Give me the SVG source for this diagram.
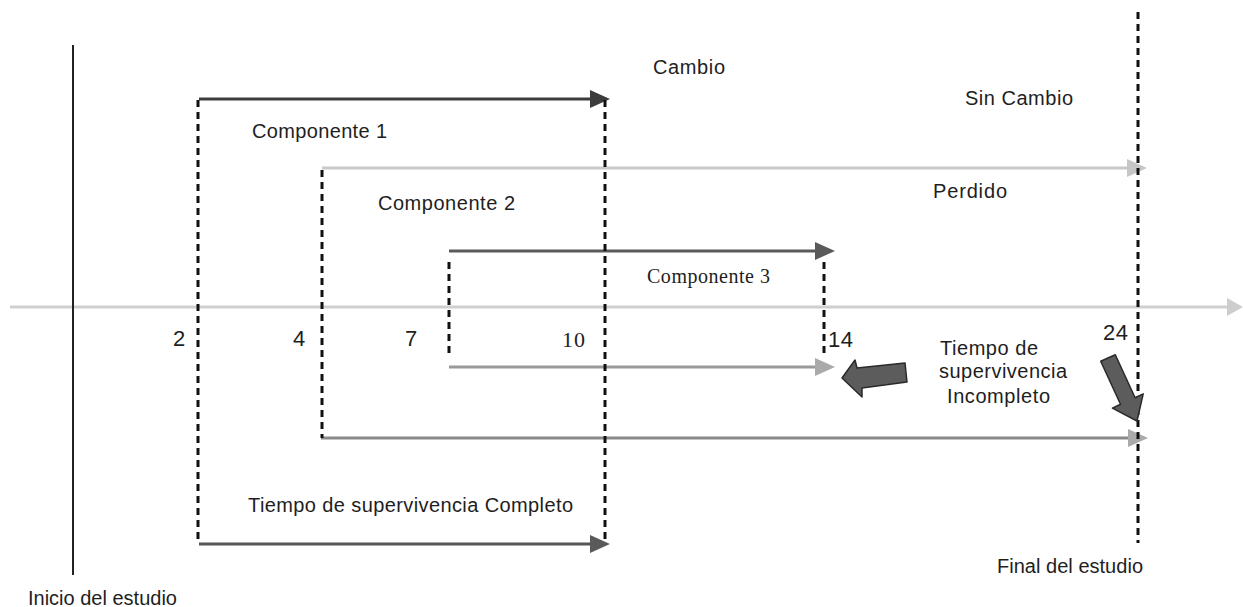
<svg xmlns="http://www.w3.org/2000/svg" width="1243" height="607" viewBox="0 0 1243 607">
  <style>
    .lbl { font-family: "Liberation Sans", Arial, sans-serif; font-size: 20px; fill: #1e1e1e; }
    .num { font-family: "Liberation Sans", Arial, sans-serif; font-size: 22px; fill: #1e1e1e; }
    .ser { font-family: "Liberation Serif", "Times New Roman", serif; fill: #1e1e1e; }
    .dash { stroke: #111; stroke-width: 3; stroke-dasharray: 7 5; fill: none; }
    .ln { fill: none; stroke-width: 3; }
    .block { fill: #5c5c5c; stroke: #2a2a2a; stroke-width: 1.5; stroke-linejoin: round; }
  </style>
  <defs>
    <marker id="hDark" markerUnits="userSpaceOnUse" viewBox="0 0 20 18" refX="10" refY="9" markerWidth="20" markerHeight="18" orient="auto">
      <path d="M0,0 L20,9 L0,18 z" fill="#3c3c3c"/>
    </marker>
    <marker id="hMid" markerUnits="userSpaceOnUse" viewBox="0 0 20 18" refX="10" refY="9" markerWidth="20" markerHeight="18" orient="auto">
      <path d="M0,0 L20,9 L0,18 z" fill="#5a5a5a"/>
    </marker>
    <marker id="hGrey" markerUnits="userSpaceOnUse" viewBox="0 0 20 18" refX="10" refY="9" markerWidth="20" markerHeight="18" orient="auto">
      <path d="M0,0 L20,9 L0,18 z" fill="#aaaaaa"/>
    </marker>
    <marker id="hLight" markerUnits="userSpaceOnUse" viewBox="0 0 20 18" refX="10" refY="9" markerWidth="20" markerHeight="18" orient="auto">
      <path d="M0,0 L20,9 L0,18 z" fill="#c6c6c6"/>
    </marker>
    <marker id="hAxis" markerUnits="userSpaceOnUse" viewBox="0 0 16 18" refX="8" refY="9" markerWidth="16" markerHeight="18" orient="auto">
      <path d="M0,0 L16,9 L0,18 z" fill="#cdcdcd"/>
    </marker>
  </defs>

  <!-- time axis and study start line -->
  <g id="axis">
    <line class="ln" x1="10" y1="307" x2="1235" y2="307" stroke="#cfcfcf" marker-end="url(#hAxis)"/>
    <line x1="73" y1="45" x2="73" y2="575" stroke="#222" stroke-width="2"/>
  </g>

  <!-- follow-up intervals -->
  <g id="connectors">
    <line class="ln" x1="199" y1="99" x2="600" y2="99" stroke="#3c3c3c" stroke-width="3.5" marker-end="url(#hDark)"/>
    <line class="ln" x1="322" y1="168" x2="1137" y2="168" stroke="#c9c9c9" marker-end="url(#hLight)"/>
    <line class="ln" x1="449" y1="251" x2="825" y2="251" stroke="#5a5a5a" marker-end="url(#hMid)"/>
    <line class="ln" x1="449" y1="367" x2="825" y2="367" stroke="#9a9a9a" marker-end="url(#hGrey)"/>
    <line class="ln" x1="321" y1="438" x2="1138" y2="438" stroke="#8a8a8a" marker-end="url(#hGrey)"/>
    <line class="ln" x1="199" y1="544" x2="600" y2="544" stroke="#555" stroke-width="3.5" marker-end="url(#hMid)"/>

    <!-- dashed time markers -->
    <line class="dash" x1="198" y1="100" x2="198" y2="544"/>
    <line class="dash" x1="605" y1="100" x2="605" y2="544"/>
    <line class="dash" x1="322" y1="170" x2="322" y2="438"/>
    <line class="dash" x1="449" y1="262" x2="449" y2="358"/>
    <line class="dash" x1="824" y1="262" x2="824" y2="356"/>
    <line class="dash" x1="1138" y1="12" x2="1138" y2="543"/>
  </g>

  <!-- outcome labels -->
  <g id="cambio"><text class="lbl" x="653" y="74" textLength="72">Cambio</text></g>
  <g id="sin-cambio"><text class="lbl" x="965" y="105" textLength="108">Sin Cambio</text></g>
  <g id="perdido"><text class="lbl" x="933" y="198" textLength="74">Perdido</text></g>

  <!-- components -->
  <g id="componente-1"><text class="lbl" x="252" y="138" textLength="135">Componente 1</text></g>
  <g id="componente-2"><text class="lbl" x="378" y="210" textLength="137">Componente 2</text></g>
  <g id="componente-3"><text class="ser" x="647" y="283" font-size="20" textLength="123">Componente 3</text></g>

  <!-- time values -->
  <g id="ticks">
    <text class="num" x="173" y="346">2</text>
    <text class="num" x="293" y="346">4</text>
    <text class="num" x="405" y="346">7</text>
    <text class="ser" x="562" y="347" font-size="22" textLength="23">10</text>
    <text class="num" x="828" y="347" textLength="25">14</text>
    <text class="num" x="1103" y="340" textLength="25">24</text>
  </g>

  <!-- incomplete survival time callout -->
  <g id="incompleto">
    <text class="lbl" x="940" y="355" textLength="98">Tiempo de</text>
    <text class="lbl" x="939" y="378" textLength="128">supervivencia</text>
    <text class="lbl" x="947" y="403" textLength="103">Incompleto</text>
    <polygon class="block" points="842,378 855,360 857,368 905,363 907,382 862,388 862,397"/>
    <polygon class="block" points="1100.7,361.3 1115.3,354.7 1135.1,397.7 1143.2,393.9 1137,421 1112.4,408.1 1120.5,404.3"/>
  </g>

  <g id="completo"><text class="lbl" x="248" y="512" textLength="325">Tiempo de supervivencia Completo</text></g>

  <g id="final"><text class="lbl" x="997" y="573" textLength="146">Final del estudio</text></g>
  <g id="inicio"><text class="lbl" x="28" y="605">Inicio del estudio</text></g>
</svg>
